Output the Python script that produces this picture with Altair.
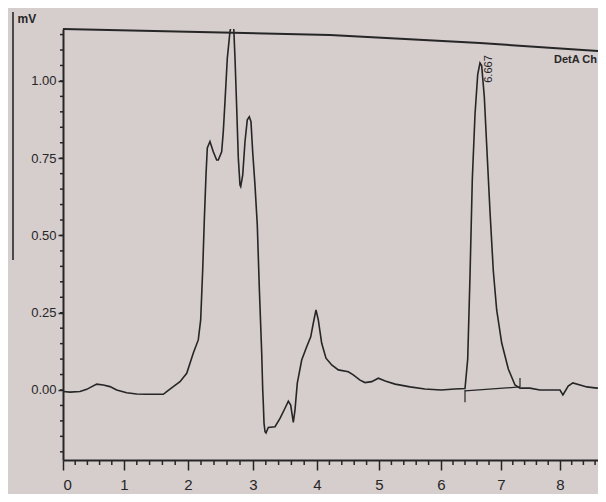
import altair as alt
import pandas as pd

# ---- data ----
time_min = [0.0, 0.115, 0.279, 0.389, 0.552, 0.661, 0.770, 0.880, 1.042, 1.198, 1.355, 1.614,
            1.667, 1.770, 1.875, 1.980, 2.082, 2.158, 2.195, 2.226, 2.251, 2.277, 2.297, 2.338,
            2.389, 2.441, 2.466, 2.518, 2.543, 2.569, 2.605, 2.646, 2.677, 2.700, 2.723, 2.749,
            2.774, 2.800, 2.811, 2.842, 2.877, 2.912, 2.943, 2.969, 2.995, 3.031, 3.067, 3.098,
            3.136, 3.152, 3.161, 3.172, 3.188, 3.203, 3.239, 3.344, 3.422, 3.500, 3.552, 3.589,
            3.630, 3.656, 3.692, 3.761, 3.839, 3.902, 3.942, 3.984, 4.021, 4.076, 4.145, 4.237,
            4.344, 4.505, 4.585, 4.694, 4.774, 4.882, 4.989, 5.10, 5.26, 5.50, 5.74, 6.00, 6.23,
            6.40, 6.445, 6.483, 6.522, 6.567, 6.612, 6.650, 6.678, 6.722, 6.762, 6.817, 6.872,
            6.928, 7.012, 7.124, 7.237, 7.322, 7.49, 7.66, 8.00, 8.05, 8.14, 8.22, 8.46, 8.63, 8.78]
signal_mv = [-0.005, -0.007, -0.005, 0.002, 0.019, 0.016, 0.011, 0.0, -0.009, -0.013, -0.014, -0.014,
             -0.005, 0.011, 0.027, 0.054, 0.120, 0.162, 0.227, 0.388, 0.550, 0.696, 0.783, 0.804,
             0.771, 0.744, 0.744, 0.771, 0.836, 0.933, 1.074, 1.160, 1.19, 1.19, 1.074, 0.913,
             0.751, 0.663, 0.658, 0.696, 0.804, 0.874, 0.884, 0.868, 0.771, 0.663, 0.534, 0.334,
             0.120, 0.0, -0.042, -0.107, -0.135, -0.139, -0.121, -0.119, -0.092, -0.059, -0.036, -0.049,
             -0.105, -0.065, 0.022, 0.097, 0.140, 0.172, 0.216, 0.259, 0.227, 0.151, 0.103, 0.081,
             0.065, 0.059, 0.049, 0.032, 0.024, 0.027, 0.038, 0.029, 0.019, 0.010, 0.003, 0.0, 0.003,
             0.005, 0.100, 0.366, 0.683, 0.893, 1.021, 1.058, 1.049, 0.948, 0.790, 0.576, 0.385,
             0.259, 0.152, 0.068, 0.016, 0.006, 0.006, 0.0, 0.0, -0.016, 0.013, 0.023, 0.010, 0.006, 0.010]
baseline_t = [6.40, 7.322]
baseline_mv = [-0.003, 0.010]
mark_t = [6.40, 7.322]
mark_lo = [-0.04, 0.010]
mark_hi = [0.0, 0.039]
x_major = [0, 1, 2, 3, 4, 5, 6, 7, 8]
x_minor = [round(i * 0.2, 1) for i in range(44) if i % 5 != 0]
y_major = [0.0, 0.25, 0.5, 0.75, 1.0]
y_minor = [round(-0.2 + i * 0.05, 2) for i in range(28)]
peak_time = [6.80]
peak_label = ["6.667"]
detector = "DetA Ch"
unit = "mV"

W, H = 535, 431
FONT = "Liberation Sans, Arial, sans-serif"
INK = "#262626"
BG = "#d6cdcd"

# the photographed time axis is slightly uneven: piecewise scale through the printed ticks
xs = alt.Scale(domain=[0, 1, 2, 3, 4, 5, 6, 7, 8, 8.65],
               range=[0, 61, 125, 190, 254, 316, 378, 438, 497, 535], nice=False, zero=False)
ys = alt.Scale(domain=[-0.2265, 1.168], nice=False, zero=False)

AX = alt.Axis(values=x_major, format="d", orient="bottom", tickSize=10, labelPadding=7,
              labelFontSize=15, labelFont=FONT, labelColor=INK, domainColor=INK, domainWidth=2,
              tickColor=INK, tickWidth=1.5, grid=False, title=None)
AY = alt.Axis(values=y_major, format=".2f", orient="left", tickSize=5, labelPadding=2,
              labelFontSize=13, labelFont=FONT, labelColor=INK, domainColor=INK, domainWidth=2,
              tickColor=INK, tickWidth=1.5, grid=False,
              title=unit, titleAngle=0, titleX=-46, titleY=-11, titleAlign="left",
              titleBaseline="middle", titleFont=FONT, titleFontSize=12, titleFontWeight="bold",
              titleColor=INK)

trace = pd.DataFrame({"t": time_min, "v": signal_mv})
base = pd.DataFrame({"t": baseline_t, "v": baseline_mv})
marks = pd.DataFrame({"t": mark_t, "v": mark_lo, "hi": mark_hi})
lab = pd.DataFrame({"t": peak_time, "label": peak_label})
xm = pd.DataFrame({"t": x_minor})
ym = pd.DataFrame({"v": y_minor})

line = alt.Chart(trace).mark_line(color=INK, strokeWidth=1.6, clip=True).encode(
    x=alt.X("t:Q", scale=xs, axis=AX),
    y=alt.Y("v:Q", scale=ys, axis=AY),
)

base_line = alt.Chart(base).mark_line(color=INK, strokeWidth=1.2).encode(
    x=alt.X("t:Q", scale=xs, axis=AX),
    y=alt.Y("v:Q", scale=ys, axis=AY),
)

integ = alt.Chart(marks).mark_rule(color=INK, strokeWidth=1.2).encode(
    x=alt.X("t:Q", scale=xs, axis=AX),
    y=alt.Y("v:Q", scale=ys, axis=AY),
    y2="hi:Q",
)

x_minor_ticks = alt.Chart(xm).mark_rule(color=INK, strokeWidth=1.5).encode(
    x=alt.X("t:Q", scale=xs, axis=AX), y=alt.value(H), y2=alt.value(H + 5))

y_minor_ticks = alt.Chart(ym).mark_rule(color=INK, strokeWidth=1.5).encode(
    y=alt.Y("v:Q", scale=ys, axis=AY), x=alt.value(-3), x2=alt.value(0))

peak_text = alt.Chart(lab).mark_text(
    angle=270, align="center", baseline="middle", font=FONT, fontSize=11,
    color=INK,
).encode(x=alt.X("t:Q", scale=xs, axis=AX), y=alt.value(40), text="label:N")

det_text = alt.Chart(pd.DataFrame({"s": [detector]})).mark_text(
    align="right", baseline="middle", font=FONT, fontSize=11, fontWeight="bold", color=INK,
).encode(x=alt.value(534), y=alt.value(31), text="s:N")

frame_pts_x = [0, 267, 417, W]
frame_pts_y = [0, 6, 14, 22]
frames = []
for i in range(3):
    frames.append(alt.Chart(pd.DataFrame({"a": [0]})).mark_rule(color=INK, strokeWidth=2).encode(
        x=alt.value(frame_pts_x[i]), x2=alt.value(frame_pts_x[i + 1]),
        y=alt.value(frame_pts_y[i]), y2=alt.value(frame_pts_y[i + 1])))

edge = alt.Chart(pd.DataFrame({"a": [0]})).mark_rule(color="#4a4a4a", strokeWidth=2).encode(
    x=alt.value(-50), y=alt.value(-17), y2=alt.value(231))

chart = alt.layer(
    line, base_line, integ, x_minor_ticks, y_minor_ticks, peak_text, det_text, *frames, edge
).properties(
    width=W, height=H, background=BG,
    padding={"left": 55, "top": 21, "right": 0, "bottom": 34},
    autosize=alt.AutoSizeParams(type="none"),
).configure_view(stroke=None)

chart.save("out.html", embed_options={"renderer": "svg", "actions": False})
